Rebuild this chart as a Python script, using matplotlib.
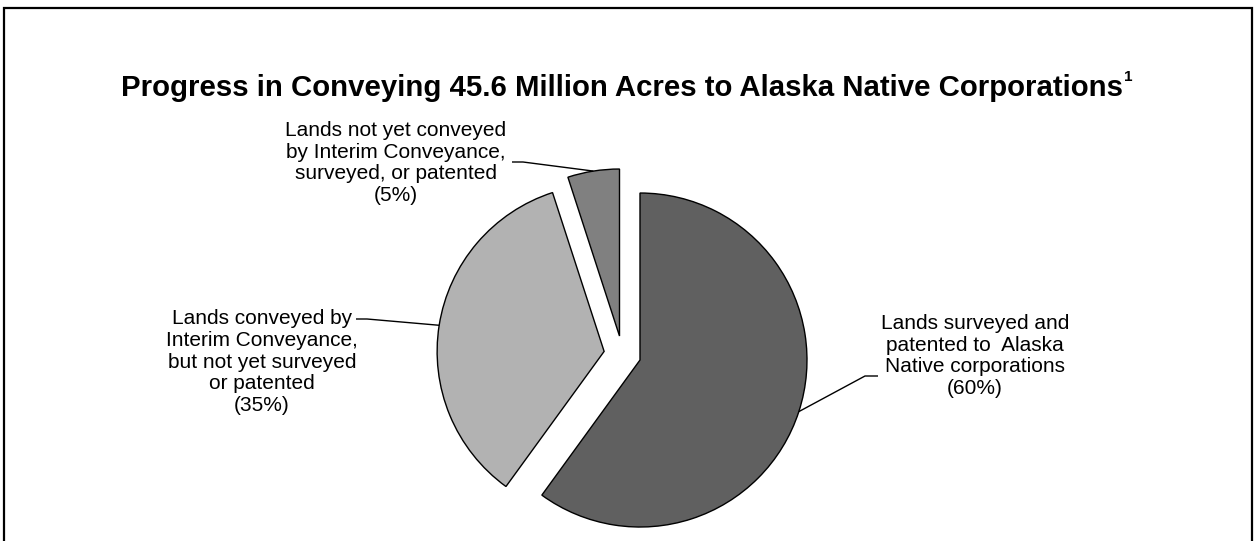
import numpy as np
import matplotlib.pyplot as plt
from matplotlib.patches import Rectangle

plt.rcParams["font.family"] = ["Liberation Sans", "DejaVu Sans"]

TITLE = "Progress in Conveying 45.6 Million Acres to Alaska Native Corporations"
shares = [60, 35, 5]
labels = [
    "Lands surveyed and\npatented to  Alaska\nNative corporations\n(60%)",
    "Lands conveyed by\nInterim Conveyance,\nbut not yet surveyed\nor patented\n(35%)",
    "Lands not yet conveyed\nby Interim Conveyance,\nsurveyed, or patented\n(5%)",
]
colors = ["#606060", "#b2b2b2", "#808080"]

W, H = 1256, 541
fig = plt.figure(figsize=(W / 100, H / 100), dpi=100)
ax = fig.add_axes([0, 0, 1, 1])

# frame around the whole chart (bottom edge falls off the page)
fig.patches.append(Rectangle((4 / W, -0.05), (W - 8) / W, 1.05 - 8 / H,
                             transform=fig.transFigure, fill=False,
                             edgecolor="black", linewidth=1.6))

# axes are in pixel units, so explode is given in pixels too
radius = 167
wedges, _ = ax.pie(shares, colors=colors, startangle=90, counterclock=False,
                   explode=[18.5] * 3, radius=radius, center=(622.4, H - 354.3),
                   wedgeprops=dict(edgecolor="black", linewidth=1.0),
                   frame=True)
ax.set_xlim(0, W)
ax.set_ylim(0, H)
ax.axis("off")

# label text centres and leader elbow points (pixels from top-left)
label_pos = [(975, 356), (262, 362), (396, 163)]
elbows = [((865, 376), (878, 376)),
          ((367, 319), (356, 319)),
          ((523, 162), (512, 162))]

for w, txt, (lx, ly), (e1, e2) in zip(wedges, labels, label_pos, elbows):
    mid = np.deg2rad((w.theta1 + w.theta2) / 2)
    cx, cy = w.center
    anchor = (cx + w.r * np.cos(mid), cy + w.r * np.sin(mid))
    xs = [anchor[0], e1[0], e2[0]]
    ys = [anchor[1], H - e1[1], H - e2[1]]
    ax.plot(xs, ys, color="black", linewidth=1.0, solid_capstyle="butt")
    ax.text(lx, H - ly, txt, ha="center", va="center", multialignment="center",
            fontsize=15, linespacing=1.19, color="black")

title = ax.text(622, H - 88, TITLE, ha="center", va="center",
                fontsize=21.2, fontweight="bold")
fig.canvas.draw()
bb = title.get_window_extent()
ax.text(bb.x1 + 1, bb.y1 - 3, "1", ha="left", va="center",
        fontsize=11, fontweight="bold")

fig.savefig("out.png", dpi=100)
